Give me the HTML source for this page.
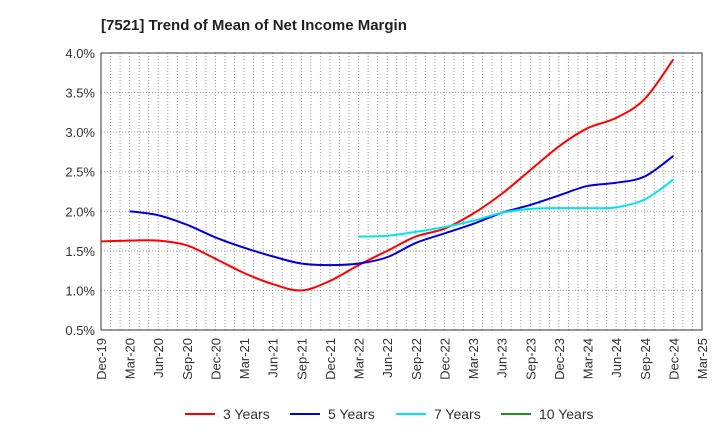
<!DOCTYPE html>
<html><head><meta charset="utf-8"><style>
body{margin:0;background:#fff;font-family:"Liberation Sans",sans-serif;}
svg text{font-family:"Liberation Sans",sans-serif;}
</style></head><body>
<svg width="720" height="440" xmlns="http://www.w3.org/2000/svg">
<text x="101" y="30" font-size="15" font-weight="bold" fill="#222">[7521]  Trend of Mean of Net Income Margin</text>
<g id="grid"></g><g id="axes"></g><g id="lines"></g><g id="legend"></g>
</svg>
<script>
const xLabels=["Dec-19","Mar-20","Jun-20","Sep-20","Dec-20","Mar-21","Jun-21","Sep-21","Dec-21","Mar-22","Jun-22","Sep-22","Dec-22","Mar-23","Jun-23","Sep-23","Dec-23","Mar-24","Jun-24","Sep-24","Dec-24","Mar-25"];
const yTicks=[0.5,1.0,1.5,2.0,2.5,3.0,3.5,4.0];
const s3=[1.62,1.63,1.63,1.57,1.40,1.22,1.08,1.00,1.12,1.32,1.50,1.68,1.78,1.97,2.22,2.52,2.82,3.05,3.18,3.42,3.92];
const s5=[null,2.00,1.95,1.83,1.67,1.54,1.43,1.34,1.32,1.34,1.42,1.60,1.72,1.84,1.98,2.08,2.20,2.32,2.36,2.44,2.70];
const s7=[null,null,null,null,null,null,null,null,null,1.68,1.69,1.74,1.80,1.88,1.98,2.03,2.04,2.04,2.05,2.15,2.40];
const s10=[];
const L=101,R=702,T=53,B=330,NS="http://www.w3.org/2000/svg";
const X=q=>L+(R-L)*q/21, Y=v=>B-(v-0.5)/3.5*(B-T);
function mk(p,t,a){const e=document.createElementNS(NS,t);for(const k in a)e.setAttribute(k,a[k]);p.appendChild(e);return e;}
const grid=document.getElementById('grid'),axes=document.getElementById('axes'),lines=document.getElementById('lines'),leg=document.getElementById('legend');
for(let m=1;m<63;m++){const x=L+(R-L)*m/63;const g=mk(grid,'line',{x1:x,x2:x,y1:T,y2:B,stroke:'#999','stroke-width':1,'stroke-dasharray':'1,2'});

}
yTicks.forEach(v=>{const y=Y(v);if(v>0.5&&v<4){const g=mk(grid,'line',{x1:L,x2:R,y1:y,y2:y,stroke:'#999','stroke-width':1,'stroke-dasharray':'1,2'});

}
const t=mk(axes,'text',{x:L-6,y:y+5,'text-anchor':'end','font-size':13,fill:'#333'});t.textContent=v.toFixed(1)+'%';

});
const fr=mk(axes,'rect',{x:L,y:T,width:R-L,height:B-T,fill:'none',stroke:'#333','stroke-width':1});


xLabels.forEach((l,i)=>{const x=X(i);const t=mk(axes,'text',{transform:`translate(${x+5},${B+8}) rotate(-90)`,'text-anchor':'end','font-size':13,fill:'#333'});t.textContent=l;

});
function path(arr){const pts=[];arr.forEach((v,i)=>{if(v!=null)pts.push([X(i),Y(v)]);});if(!pts.length)return '';
let d=`M${pts[0][0]},${pts[0][1]}`;for(let i=0;i<pts.length-1;i++){const p0=pts[i-1]||pts[i],p1=pts[i],p2=pts[i+1],p3=pts[i+2]||p2;
d+=` C${p1[0]+(p2[0]-p0[0])/6},${p1[1]+(p2[1]-p0[1])/6} ${p2[0]-(p3[0]-p1[0])/6},${p2[1]-(p3[1]-p1[1])/6} ${p2[0]},${p2[1]}`;}return d;}
const series=[[s3,'#ff0000','3 Years','line-3-years'],[s5,'#0000dd','5 Years','line-5-years'],[s7,'#00e5ee','7 Years','line-7-years'],[s10,'#228b22','10 Years','line-10-years']];
series.forEach(([a,c,n,dn])=>{const d=path(a);if(d){const p=mk(lines,'path',{d:d,fill:'none',stroke:c,'stroke-width':2});

}});
const lx=[185,290,396,501];
series.forEach(([a,c,n,dn],i)=>{const g=mk(leg,'g',{});


mk(g,'line',{x1:lx[i],x2:lx[i]+30,y1:414,y2:414,stroke:c,'stroke-width':2});
const t=mk(g,'text',{x:lx[i]+38,y:419,'font-size':14,fill:'#333'});t.textContent=n;});
</script>
</body></html>
